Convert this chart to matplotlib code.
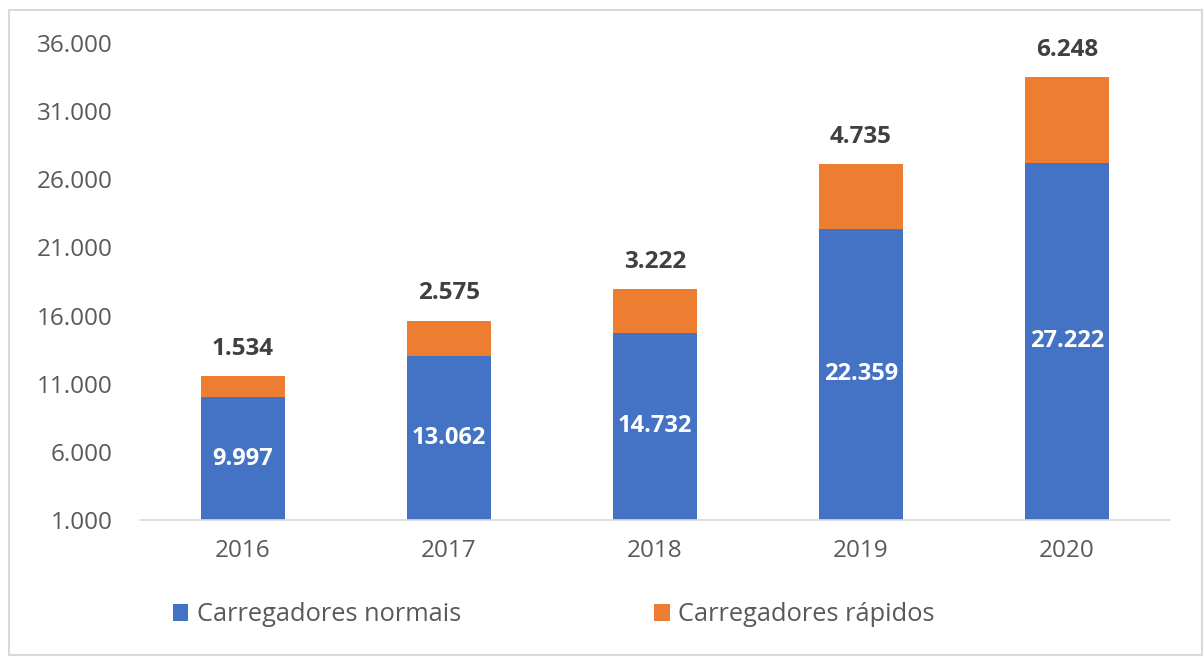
import matplotlib.pyplot as plt
from matplotlib.patches import Rectangle
from matplotlib.ticker import FuncFormatter

years = ["2016", "2017", "2018", "2019", "2020"]
normais = [9997, 13062, 14732, 22359, 27222]
rapidos = [1534, 2575, 3222, 4735, 6248]
yticks = [1000, 6000, 11000, 16000, 21000, 26000, 31000, 36000]

BLUE = "#4472c4"
ORANGE = "#ed7d31"
GRAY = "#595959"


def fmt(v):
    return f"{v:,.0f}".replace(",", ".")


def main():
    plt.rcParams["font.family"] = ["Open Sans", "DejaVu Sans"]
    fig = plt.figure(figsize=(12.04, 6.57), dpi=100)
    ax = fig.add_axes([0.1163, 0.2085, 0.8555, 0.7261])

    x = range(len(years))
    b1 = ax.bar(x, normais, width=0.41, color=BLUE, label="Carregadores normais")
    b2 = ax.bar(x, rapidos, width=0.41, bottom=normais, color=ORANGE,
                label="Carregadores rápidos")

    ax.set_xlim(-0.5, len(years) - 0.5)
    ax.set_ylim(1000, 36000)
    ax.set_yticks(yticks)
    ax.yaxis.set_major_formatter(FuncFormatter(lambda v, p: fmt(v)))
    ax.set_xticks(list(x))
    ax.set_xticklabels(years)
    ax.tick_params(axis="both", length=0, labelsize=17.5, colors=GRAY)
    ax.tick_params(axis="y", pad=20)
    ax.tick_params(axis="x", pad=14)
    for s in ["top", "right", "left"]:
        ax.spines[s].set_visible(False)
    ax.spines["bottom"].set_color("#d9d9d9")
    ax.spines["bottom"].set_linewidth(1.2)

    for i in x:
        mid = (1000 + normais[i]) / 2
        ax.text(i, mid, fmt(normais[i]), ha="center", va="center",
                color="white", fontsize=17, fontweight="bold")
        ax.annotate(fmt(rapidos[i]), (i, normais[i] + rapidos[i]),
                    xytext=(0, 11), textcoords="offset points",
                    ha="center", va="bottom", color="#404040",
                    fontsize=17.5, fontweight="bold")

    fig.legend(handles=[b1, b2], loc="center", bbox_to_anchor=(0.46, 0.064),
               ncol=2, frameon=False, fontsize=18.3, labelcolor=GRAY,
               handlelength=0.6, handleheight=0.6, handletextpad=0.35,
               columnspacing=7.6)

    fig.patches.append(Rectangle((9 / 1204, 2 / 657), 1193 / 1204, 645 / 657,
                                 transform=fig.transFigure, fill=False,
                                 edgecolor="#d9d9d9", linewidth=1.5))

    fig.savefig("out.png", dpi=100)


if __name__ == "__main__":
    main()
